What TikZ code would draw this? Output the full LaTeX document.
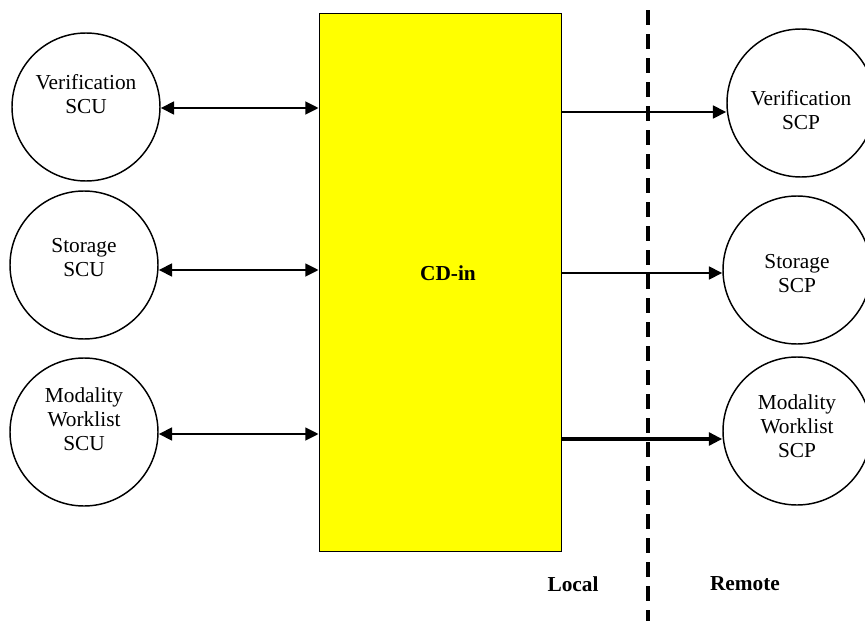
\documentclass[tikz,border=0pt]{standalone}
\usepackage{fontspec}
\setmainfont{Liberation Serif}
\usetikzlibrary{arrows.meta}
\definecolor{boxyellow}{RGB}{255,255,0}
\begin{document}
\begin{tikzpicture}[x=0.75pt,y=-0.75pt,
  circ/.style={draw=black,line width=1.1pt,circle,minimum size=111pt,inner sep=0pt},
  lbl/.style={align=center,font=\fontsize{16}{18}\selectfont,inner sep=0pt},
  arr/.style={draw=black,line width=2pt,-{Triangle[length=10pt,width=9.5pt]}},
  darr/.style={draw=black,line width=2pt,{Triangle[length=10pt,width=9.5pt]}-{Triangle[length=10pt,width=9.5pt]}},
  bold/.style={font=\bfseries\fontsize{16}{18}\selectfont,inner sep=0pt}]
\useasboundingbox (0,0) rectangle (865,621);
% central box
\node[draw=black,fill=boxyellow,line width=0.8pt,minimum width=182pt,minimum height=404pt,inner sep=0pt] (cd) at (440.5,282.5) {};
\node[bold] (cdt) at (448,273) {CD-in};
% dashed line
\coordinate (dtop) at (648,10);
\coordinate (dbot) at (648,621);
\draw[line width=3pt,dash pattern=on 11.25pt off 6.75pt] (dtop) -- (dbot);
% left circles
\node[circ] (vscu) at (86,107) {};
\node[lbl] (vscut) at (86,94) {Verification\\SCU};
\node[circ] (sscu) at (84,265) {};
\node[lbl] (sscut) at (84,258) {Storage\\SCU};
\node[circ] (mscu) at (84,432) {};
\node[lbl] (mscut) at (84,419) {Modality\\Worklist\\SCU};
% right circles
\node[circ] (vscp) at (801,103) {};
\node[lbl] (vscpt) at (801,110) {Verification\\SCP};
\node[circ] (sscp) at (797,270) {};
\node[lbl] (sscpt) at (797,274) {Storage\\SCP};
\node[circ] (mscp) at (797,431) {};
\node[lbl] (mscpt) at (797,426) {Modality\\Worklist\\SCP};
% left arrows
\draw[darr] (vscu.east |- 0,108) -- (cd.west |- 0,108);
\draw[darr] (sscu.east |- 0,270) -- (cd.west |- 0,270);
\draw[darr] (mscu.east |- 0,434) -- (cd.west |- 0,434);
% right arrows
\draw[arr] (cd.east |- 0,112) -- (vscp.west |- 0,112);
\draw[arr] (cd.east |- 0,273) -- (sscp.west |- 0,273);
\draw[arr,line width=3pt] (cd.east |- 0,439) -- (mscp.west |- 0,439);
% labels
\node[bold] (local) at (573,584) {Local};
\node[bold] (remote) at (745,584) {Remote};
\end{tikzpicture}
\end{document}
